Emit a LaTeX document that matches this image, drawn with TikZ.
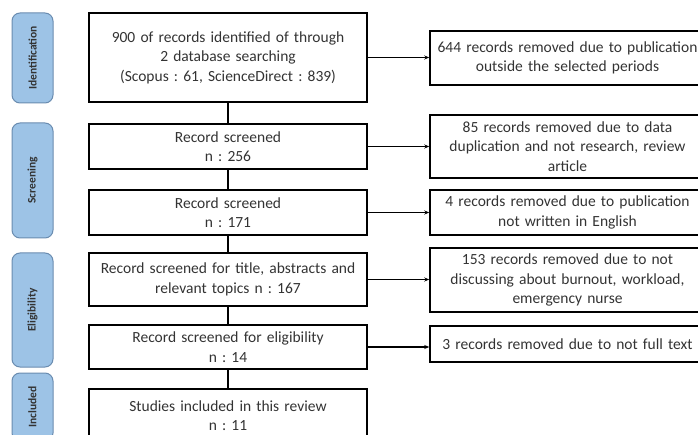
\documentclass[tikz,border=0pt]{standalone}
\usepackage{fontspec}
\setmainfont{Carlito}
\usetikzlibrary{arrows.meta}
\definecolor{lblfill}{HTML}{9DC3E6}
\definecolor{lbldraw}{HTML}{6A8CB0}
\definecolor{txt}{HTML}{333333}
\frenchspacing
\tikzset{
  box/.style={draw=black, line width=1.5pt, minimum width=278pt, text width=276pt, align=center, inner sep=0pt, text=txt, font=\fontsize{15.5}{19.5}\selectfont},
  rbox/.style={box, minimum width=275pt, text width=275pt},
  side/.style={draw=lbldraw, fill=lblfill, line width=1pt, rounded corners=8pt, rotate=90, minimum height=41pt, inner sep=0pt, text=txt, font=\fontsize{11.5}{13}\selectfont\bfseries},
  vline/.style={line width=1.2pt},
  arr/.style={line width=1.2pt, -{Stealth[length=5pt,width=4pt]}}
}
\begin{document}
\begin{tikzpicture}[x=1pt,y=-1pt]
\useasboundingbox (0,0) rectangle (698,435);
\clip (0,0) rectangle (698,435);
% side labels
\node[side, minimum width=90pt] (s1) at (32.5,58) {Identification};
\node[side, minimum width=115pt] (s2) at (32.5,180.5) {Screening};
\node[side, minimum width=114pt] (s3) at (32.5,310) {Eligibility};
\node[side, minimum width=68pt] (s4) at (32.5,407) {Included};
% main column
\node[box, minimum height=89pt] (b1) at (228,57.5) {900 of records identified of through\\2 database searching\\(Scopus : 61, ScienceDirect : 839)};
\node[box, minimum height=45pt] (b2) at (228,146.5) {Record screened\\n : 256};
\node[box, minimum height=45pt] (b3) at (228,212.5) {Record screened\\n : 171};
\node[box, minimum height=53pt] (b4) at (228,279.5) {Record screened for title, abstracts and\\relevant topics n : 167};
\node[box, minimum height=44pt] (b5) at (228,347) {Record screened for eligibility\\n : 14};
\node[box, minimum height=53pt] (b6) at (228,415.5) {Studies included in this review\\n : 11};
% right column
\node[rbox, minimum height=54pt] (r1) at (567.5,58) {644 records removed due to publication\\outside the selected periods};
\node[rbox, minimum height=63pt] (r2) at (567.5,146.5) {85 records removed due to data\\duplication and not research, review\\article};
\node[rbox, minimum height=45pt] (r3) at (567.5,212.5) {4 records removed due to publication\\not written in English};
\node[rbox, minimum height=64pt] (r4) at (567.5,280) {153 records removed due to not\\discussing about burnout, workload,\\emergency nurse};
\node[rbox, minimum height=36pt] (r5) at (567.5,344) {3 records removed due to not full text};
% vertical connectors
\draw[vline] (b1.south) -- (b2.north);
\draw[vline] (b2.south) -- (b3.north);
\draw[vline] (b3.south) -- (b4.north);
\draw[vline] (b4.south) -- (b5.north);
\draw[vline] (b5.south) -- (b6.north);
% horizontal arrows
\draw[arr] (b1.east) -- (b1.east -| r1.west);
\draw[arr] (b2.east) -- (b2.east -| r2.west);
\draw[arr] (b3.east) -- (b3.east -| r3.west);
\draw[arr] (b4.east) -- (b4.east -| r4.west);
\draw[arr] (b5.east) -- (b5.east -| r5.west);
\end{tikzpicture}
\end{document}
